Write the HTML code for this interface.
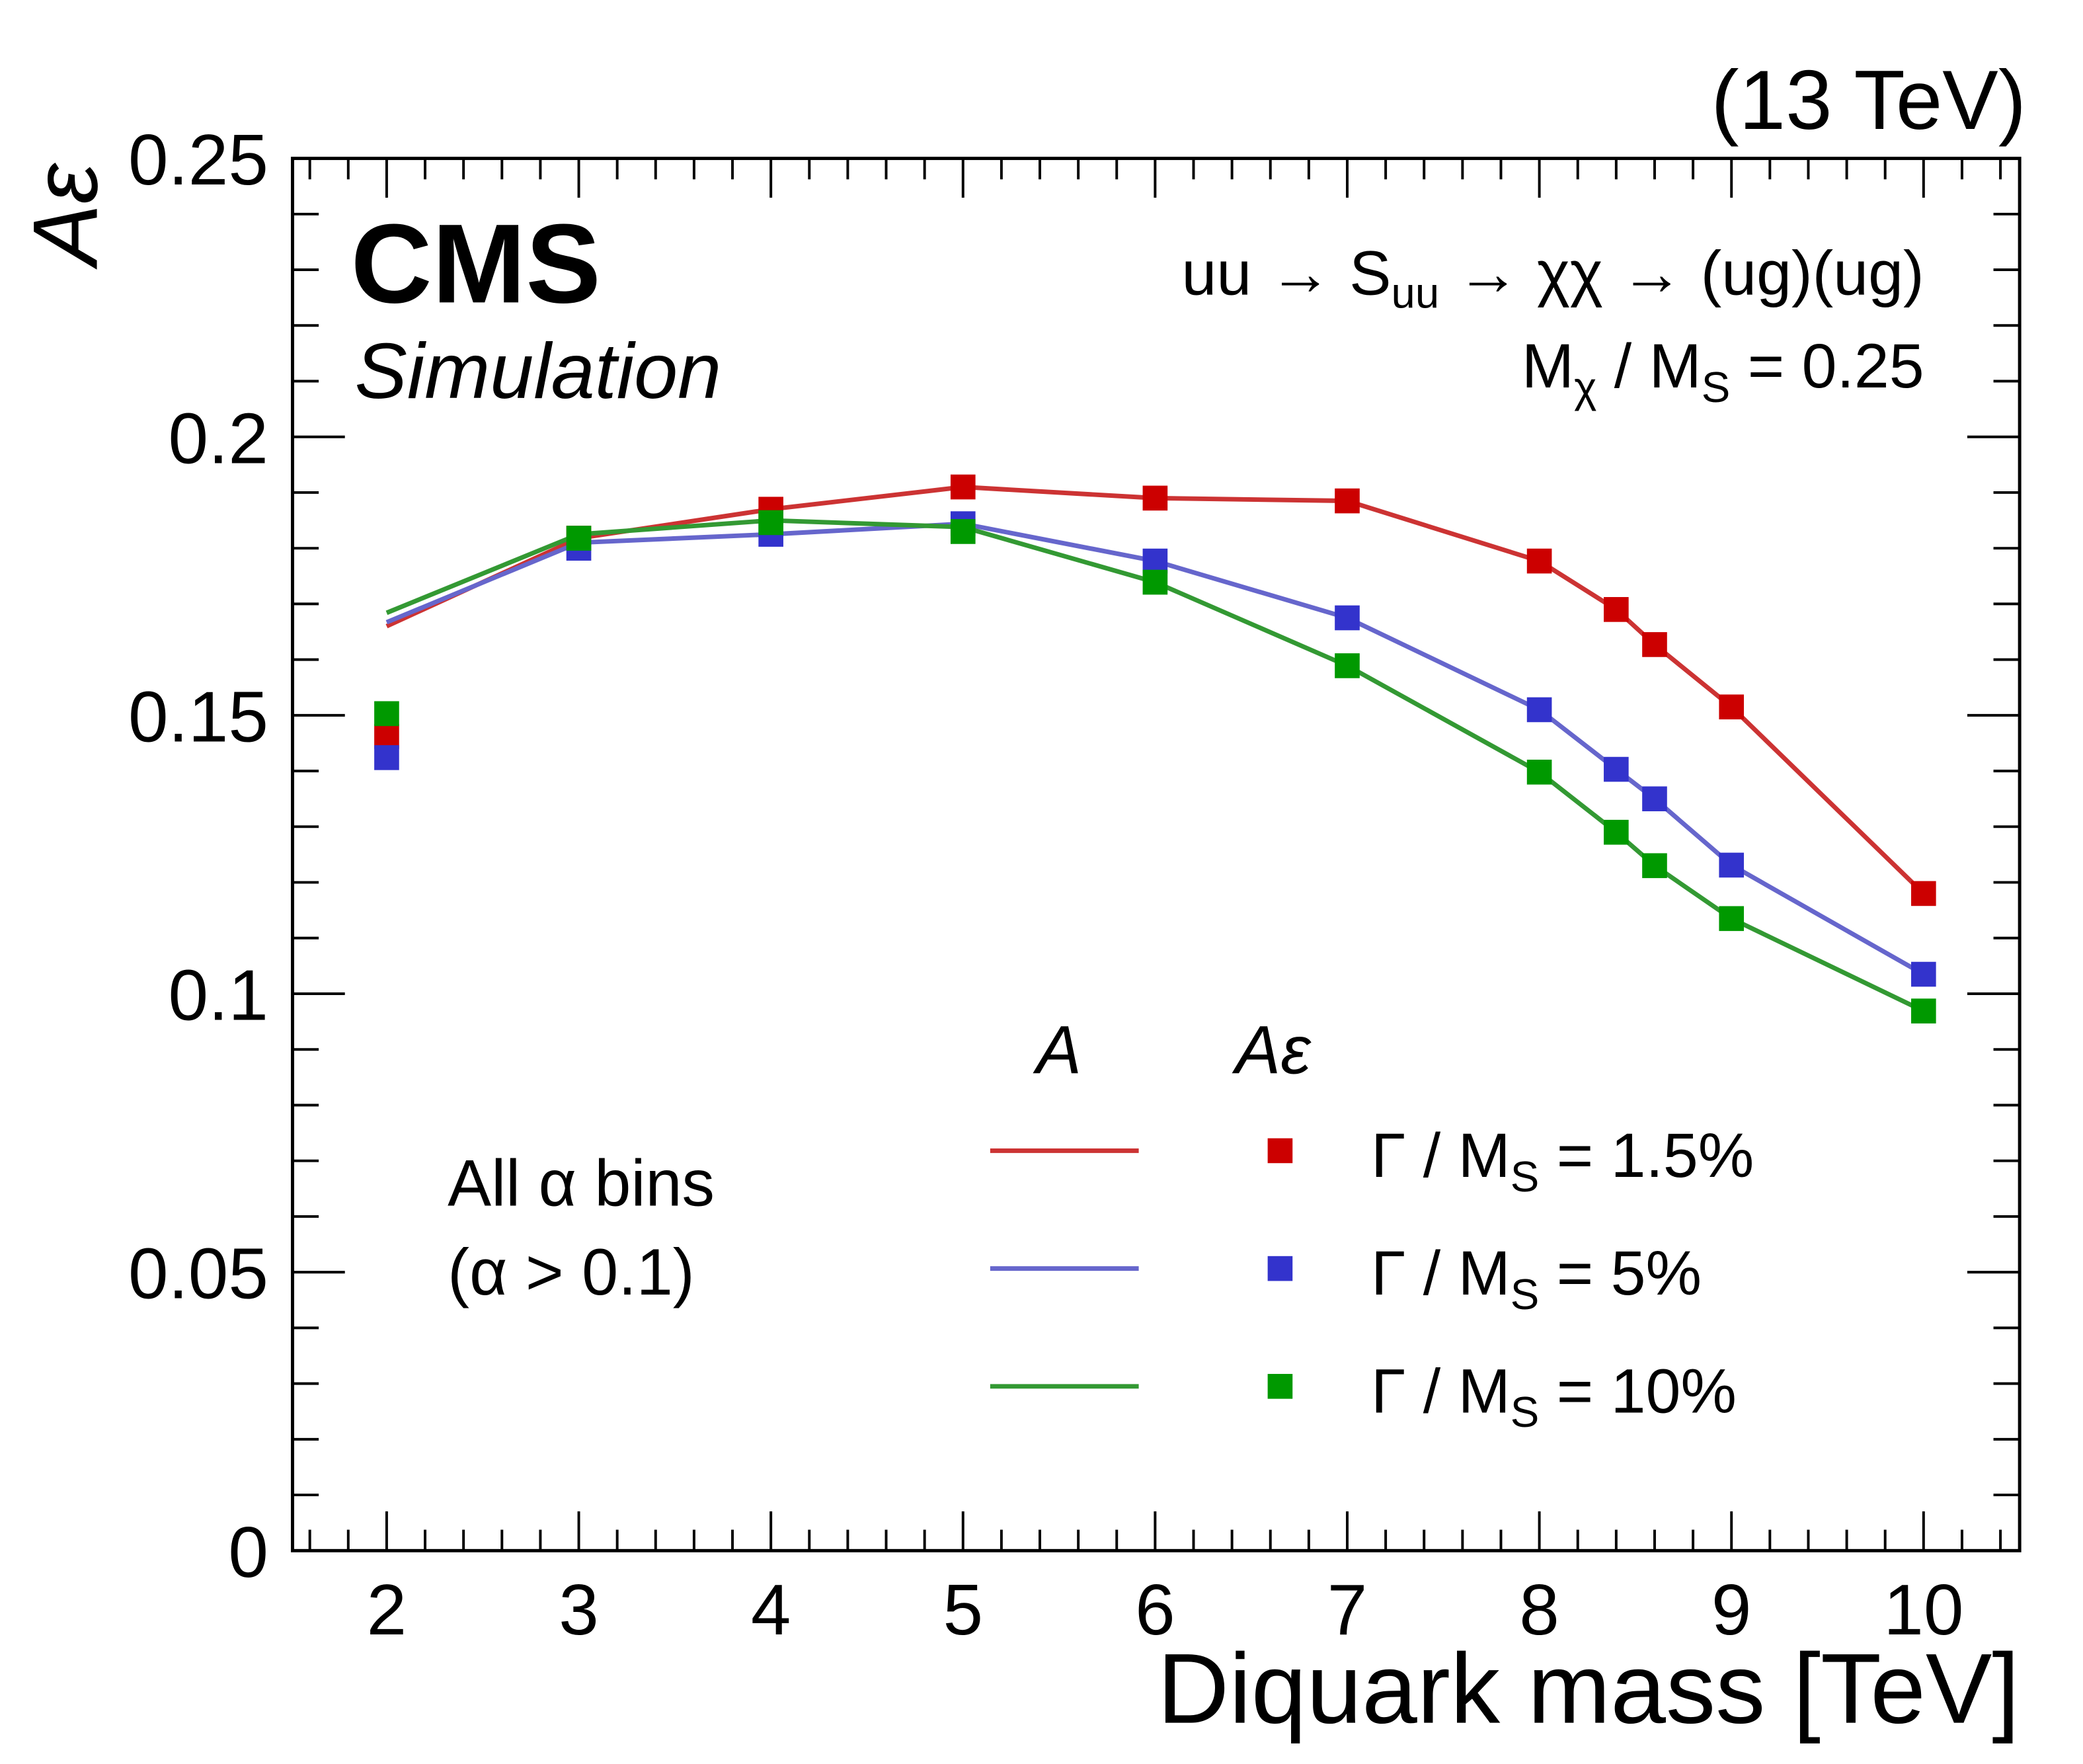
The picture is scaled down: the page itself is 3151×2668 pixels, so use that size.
<!DOCTYPE html>
<html><head><meta charset="utf-8"><style>
html,body{margin:0;padding:0;background:#fff}
svg{display:block;font-family:"Liberation Sans",sans-serif}
</style></head><body>
<svg id="chart" width="3151" height="2668" viewBox="0 0 3151 2668" xmlns="http://www.w3.org/2000/svg">
<g transform="scale(0.99)">
<g id="ticks"></g>
<g id="series"></g>
<rect x="447" y="242" width="2639" height="2127" fill="none" stroke="#000" stroke-width="5"/>
<g id="labels" font-size="110"></g>
<text transform="translate(148,405) rotate(-90)" font-size="140" font-style="italic">Aε</text>
<text x="3086" y="2632" font-size="152" text-anchor="end">Diquark mass [TeV]</text>
<text x="3096" y="197" font-size="128" text-anchor="end">(13 TeV)</text>
<text x="536" y="462" font-size="172" font-weight="bold">CMS</text>
<text x="542" y="608" font-size="120" font-style="italic">Simulation</text>
<text x="2940" y="450" font-size="96" text-anchor="end">uu → S<tspan font-size="66" dy="20">uu</tspan><tspan dy="-20"> → χχ → (ug)(ug)</tspan></text>
<text x="2940" y="592" font-size="96" text-anchor="end">M<tspan font-size="66" dy="22">χ</tspan><tspan dy="-22"> / M</tspan><tspan font-size="66" dy="22">S</tspan><tspan dy="-22"> = 0.25</tspan></text>
<text x="684" y="1842" font-size="100">All α bins</text>
<text x="684" y="1978" font-size="100">(α &gt; 0.1)</text>
<g id="legend">
<text x="1618" y="1640" font-size="104" font-style="italic" text-anchor="middle">A</text>
<text x="1945" y="1640" font-size="104" font-style="italic" text-anchor="middle">Aε</text>
</g>
</g>
<script>
const masses=[2,3,4,5,6,7,8,8.4,8.6,9,10];
const redA=[0.166,0.1818,0.187,0.191,0.189,0.1885,0.1777,0.169,0.1627,0.1515,0.118];
const redAe=[0.1462,0.1818,0.187,0.191,0.189,0.1885,0.1777,0.169,0.1627,0.1515,0.118];
const blueA=[0.1667,0.181,0.1825,0.1844,0.1777,0.1675,0.151,0.1403,0.135,0.1231,0.1035];
const blueAe=[0.1424,0.18,0.1825,0.1844,0.1777,0.1675,0.151,0.1403,0.135,0.1231,0.1035];
const greenA=[0.1684,0.1825,0.185,0.1838,0.1739,0.1589,0.1398,0.129,0.123,0.1135,0.0969];
const greenAe=[0.1503,0.1818,0.1846,0.183,0.1739,0.1589,0.1398,0.129,0.123,0.1135,0.0969];
const xTicks=[2,3,4,5,6,7,8,9,10];
const yTicks=[0,0.05,0.1,0.15,0.2,0.25];
const yTickLabels=["0","0.05","0.1","0.15","0.2","0.25"];
const legendLabels=["1.5%","5%","10%"];

const X0=447,X1=3086,Y0=2369,Y1=242,XMIN=1.51,XMAX=10.5,YMAX=0.25;
const sx=v=>X0+(v-XMIN)/(XMAX-XMIN)*(X1-X0);
const sy=v=>Y0-v/YMAX*(Y0-Y1);
const NS="http://www.w3.org/2000/svg";
function mk(tag,attrs,parent){const e=document.createElementNS(NS,tag);for(const k in attrs)e.setAttribute(k,attrs[k]);parent.appendChild(e);return e;}
const tg=document.getElementById('ticks'),lg=document.getElementById('labels');
for(let i=0;i<=45;i++){const v=1.6+i*0.2;if(v>10.45)break;const maj=Math.abs(v-Math.round(v))<1e-6;const L=maj?60:32;const x=sx(v);
 const t1=mk('line',{x1:x,x2:x,y1:Y0,y2:Y0-L,stroke:'#000','stroke-width':4},tg);
 
 const t2=mk('line',{x1:x,x2:x,y1:Y1,y2:Y1+L,stroke:'#000','stroke-width':4},tg);
 }
for(let i=0;i<=25;i++){const v=i*0.01;const maj=i%5===0;const L=maj?80:40;const y=sy(v);
 const t1=mk('line',{x1:X0,x2:X0+L,y1:y,y2:y,stroke:'#000','stroke-width':4},tg);
 
 const t2=mk('line',{x1:X1,x2:X1-L,y1:y,y2:y,stroke:'#000','stroke-width':4},tg);
 }
xTicks.forEach(v=>{const t=mk('text',{x:sx(v),y:2497,'text-anchor':'middle'},lg);t.textContent=v;
 });
yTicks.forEach((v,i)=>{const t=mk('text',{x:410,y:sy(v)+40,'text-anchor':'end'},lg);t.textContent=yTickLabels[i];
 });
const sg=document.getElementById('series');
const series=[[redA,redAe,'#cc3333','#cc0000','red'],[blueA,blueAe,'#6666cc','#3333cc','blue'],[greenA,greenAe,'#339933','#009900','green']];
const legend=document.getElementById('legend');
series.forEach((s,k)=>{
 const pts=masses.map((m,i)=>sx(m)+','+sy(s[0][i])).join(' ');
 const pl=mk('polyline',{points:pts,fill:'none',stroke:s[2],'stroke-width':7},sg);
 
 masses.forEach((m,i)=>{const r=mk('rect',{x:sx(m)-19,y:sy(s[1][i])-19,width:38,height:38,fill:s[3]},sg);
  });
 const ly=1758+k*180;
 const ll=mk('line',{x1:1513,x2:1740,y1:ly,y2:ly,stroke:s[2],'stroke-width':7},legend);
 
 const lm=mk('rect',{x:1937,y:ly-19,width:38,height:38,fill:s[3]},legend);
 
 const lt=mk('text',{x:2095,y:ly+40,'font-size':96},legend);
 
 
 const a=mk('tspan',{},lt);a.textContent='Γ / M';
 const b=mk('tspan',{'font-size':66,dy:22},lt);b.textContent='S';
 const c=mk('tspan',{dy:-22},lt);c.textContent=' = '+legendLabels[k];
});
</script>
</svg>
</body></html>
